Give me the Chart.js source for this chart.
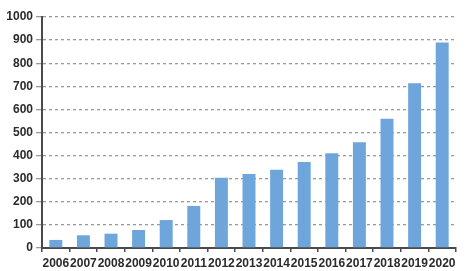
<!DOCTYPE html>
<html>
<head>
<meta charset="utf-8">
<script src="https://cdn.jsdelivr.net/npm/chart.js@4/dist/chart.umd.min.js"></script>
<style>
  html, body { margin: 0; padding: 0; background: #fff; }
  #wrap { width: 473px; height: 271px; position: relative; }
</style>
</head>
<body>
<div id="wrap"><canvas id="chart"></canvas></div>
<script>
// chart data
const years = ['2006', '2007', '2008', '2009', '2010', '2011', '2012', '2013',
               '2014', '2015', '2016', '2017', '2018', '2019', '2020'];
const values = [35, 55, 62, 78, 121, 182, 304, 320, 339, 372, 410, 458, 560, 713, 890];
const yTicks = [0, 100, 200, 300, 400, 500, 600, 700, 800, 900, 1000];

const labelFont = { family: "'Liberation Sans Narrow', 'Liberation Sans', Arial", size: 12, weight: 'bold' };

new Chart(document.getElementById('chart'), {
    type: 'bar',
    data: {
        labels: years,
        datasets: [{
            data: values,
            backgroundColor: '#6ea6dc',
            borderWidth: 0,
            barPercentage: 0.47,
            categoryPercentage: 1.0
        }]
    },
    options: {
        responsive: true,
        maintainAspectRatio: false,
        animation: false,
        layout: { padding: { left: 0, right: 17, top: 17, bottom: 0 } },
        plugins: {
            legend: { display: false },
            tooltip: { enabled: false }
        },
        scales: {
            y: {
                min: 0,
                max: 1000,
                afterFit: (s) => { s.width = 42; },
                afterBuildTicks: (s) => { s.ticks = yTicks.map(v => ({ value: v })); },
                ticks: { color: '#2b2b2b', font: labelFont, padding: 3, callback: (v) => String(v) },
                grid: { color: '#9a9a9a', lineWidth: 1.3, tickLength: 6 },
                border: { color: '#4a4a4a', width: 2, dash: [3, 3] }
            },
            x: {
                afterFit: (s) => { s.height = 23; },
                ticks: { color: '#2b2b2b', font: labelFont, padding: 4, maxRotation: 0, autoSkip: false },
                grid: { drawOnChartArea: false, offset: true, color: '#4a4a4a', lineWidth: 1.5, tickLength: 4 },
                border: { color: '#4a4a4a', width: 2 }
            }
        }
    }
});
</script>
</body>
</html>
